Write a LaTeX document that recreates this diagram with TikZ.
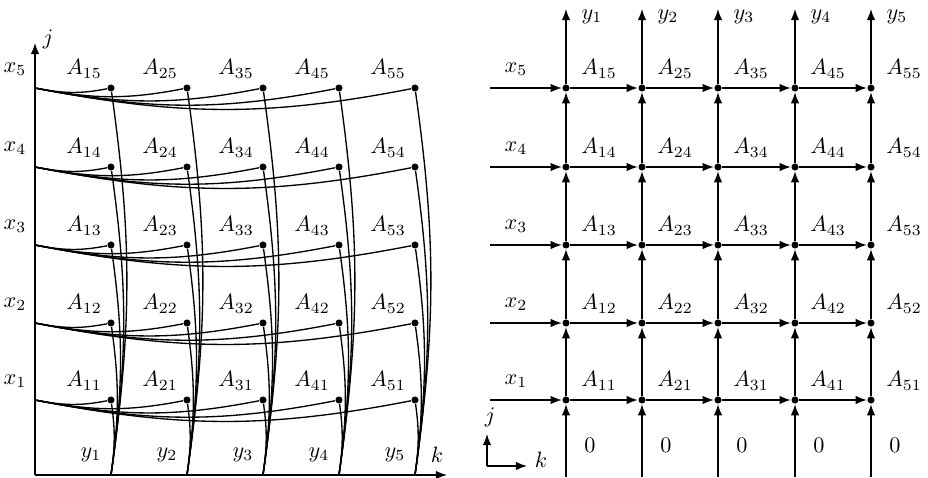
\documentclass[tikz,border=0pt]{standalone}
\usepackage{amsmath, amssymb}
\usepackage{tikz}
\usetikzlibrary{calc, arrows.meta}

\begin{document}
\begin{tikzpicture}[x=0.45pt, y=0.45pt, line width=0.6pt,
        tip/.style={-{Latex[length=5pt, width=3.8pt]}},
        dot/.style={circle, fill=black, inner sep=0pt, minimum size=3.2pt}]
    \useasboundingbox (0,0) rectangle (928,477);
    % left picture: axes
    \coordinate (O) at (35,2);
    \coordinate (J) at (35,434);
    \coordinate (K) at (447,2);
    \draw[tip] (O) -- (J);
    \draw[tip] (O) -- (K);
    \node (jl) at (48,438) {$j$};
    \node (kl) at (437,22) {$k$};
    \foreach \i/\x in {1/111, 2/187, 3/263, 4/339, 5/415} {
        \coordinate (b\i) at (\x,2);
        \node (yl\i) at (\x-20,22) {$y_\i$};
    }
    \foreach \j/\y in {1/77, 2/154, 3/232, 4/310, 5/389} {
        \coordinate (s\j) at (35,\y);
        \node (xl\j) at (15,\y+19) {$x_\j$};
        \foreach \i/\x in {1/111, 2/187, 3/263, 4/339, 5/415} {
            \node[dot] (P\i\j) at (\x,\y) {};
            \node (al\i\j) at (\x-27,\y+19) {$A_{\i\j}$};
        }
    }
    \foreach \i in {1,...,5}
        \foreach \j in {1,...,5} {
            \draw (s\j) to[out=-11, in=191] (P\i\j);
            \draw (b\i) to[out=82, in=-82] (P\i\j);
        }
    % right picture
    \coordinate (o) at (487,11);
    \coordinate (jj) at (487,43);
    \coordinate (kk) at (527,11);
    \draw[tip] (o) -- (jj);
    \draw[tip] (o) -- (kk);
    \node (jr) at (490,60) {$j$};
    \node (kr) at (541,17) {$k$};
    \foreach \i/\x in {1/566, 2/642, 3/718, 4/795, 5/871} {
        \coordinate (c\i) at (\x,0);
        \coordinate (t\i) at (\x,468);
        \node (yr\i) at (\x+26,460) {$y_\i$};
        \node (z\i) at (\x+24,32) {$0$};
    }
    \foreach \j/\y in {1/77, 2/154, 3/232, 4/310, 5/389} {
        \coordinate (r\j) at (490,\y);
        \node (xr\j) at (516,\y+19) {$x_\j$};
        \foreach \i/\x in {1/566, 2/642, 3/718, 4/795, 5/871} {
            \node[dot] (Q\i\j) at (\x,\y) {};
            \node (ar\i\j) at (\x+33,\y+19) {$A_{\i\j}$};
        }
    }
    \foreach \j in {1,...,5} {
        \draw[tip] (r\j) -- (Q1\j);
        \foreach \i in {1,...,4} {
            \pgfmathtruncatemacro{\n}{\i+1}
            \draw[tip] (Q\i\j) -- (Q\n\j);
        }
    }
    \foreach \i in {1,...,5} {
        \draw[tip] (c\i) -- (Q\i1);
        \foreach \j in {1,...,4} {
            \pgfmathtruncatemacro{\n}{\j+1}
            \draw[tip] (Q\i\j) -- (Q\i\n);
        }
        \draw[tip] (Q\i5) -- (t\i);
    }
\end{tikzpicture}
\end{document}
